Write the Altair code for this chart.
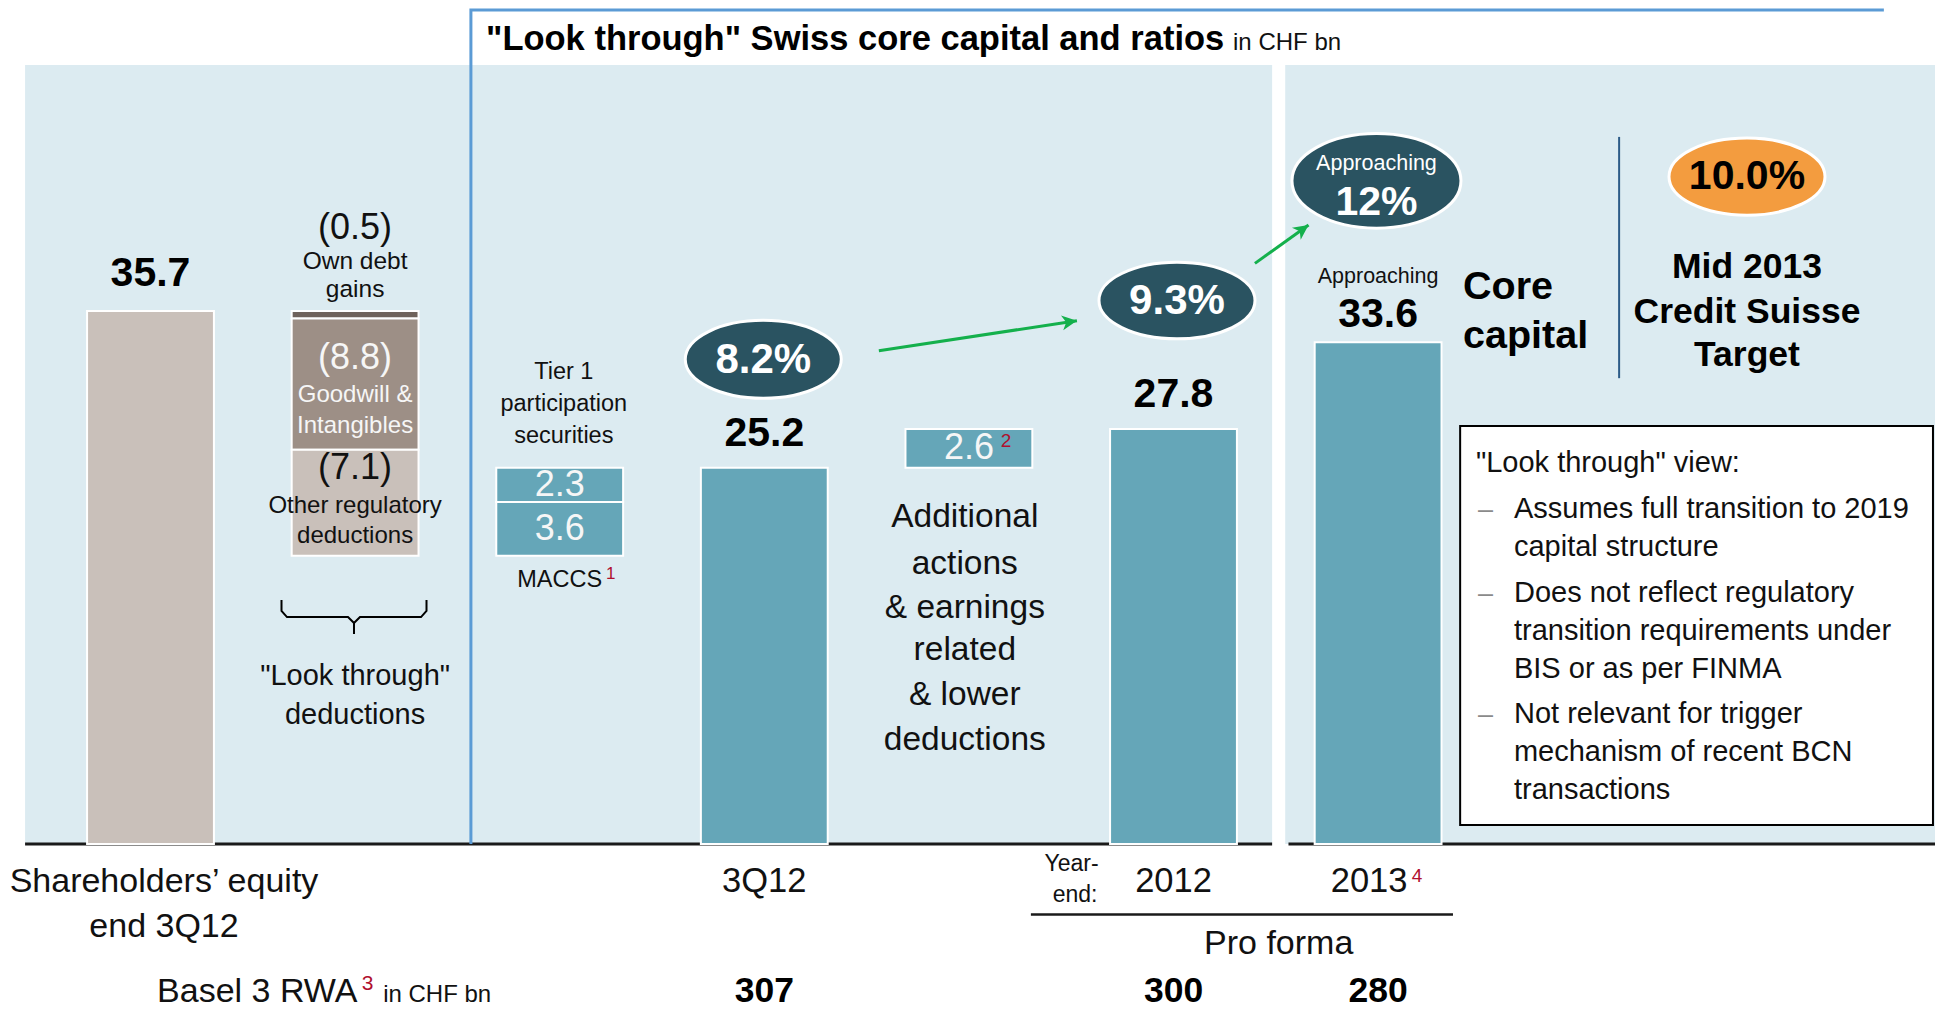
import math
import pandas as pd
import altair as alt

# ------------------------------------------------------------------ data (CHF bn)
equity_label = ["Shareholders\u2019 equity", "end 3Q12"]
equity_value = 35.7
deduction_labels = ["(0.5)", "(8.8)", "(7.1)"]
deduction_values = [0.5, 8.8, 7.1]
deduction_kinds = ["own_debt", "goodwill", "other_reg"]
addition_labels = ["3.6", "2.3"]            # MACCS, Tier 1 participation securities
addition_values = [3.6, 2.3]
core_periods = ["3Q12", "2012", "2013"]
core_values = [25.2, 27.8, 33.6]
core_slots = [3, 5, 6]
additional_label = "2.6"
additional_value = 2.6
ratio_labels = ["8.2%", "9.3%", "12%"]
target_label = "10.0%"
rwa_labels = ["307", "300", "280"]
info_title = '"Look through" view:'
info_bullets = [
    ["Assumes full transition to 2019", "capital structure"],
    ["Does not reflect regulatory", "transition requirements under", "BIS or as per FINMA"],
    ["Not relevant for trigger", "mechanism of recent BCN", "transactions"],
]

# ------------------------------------------------------------------ layout
W, H = 1927, 1004
STEP = 204.6          # px per category slot
KPX = 14.93           # px per CHF bn
X0PX, Y0PX = 142.5, 836
XDOM = [-X0PX / STEP, (W - X0PX) / STEP]
YDOM = [-(H - Y0PX) / KPX, Y0PX / KPX]
XS = alt.Scale(domain=XDOM, nice=False, zero=False)
YS = alt.Scale(domain=YDOM, nice=False, zero=False)
HW = 0.31

SANS = "Liberation Sans, Arial, Helvetica, sans-serif"
INK = "#111111"
BG = "#DCEBF1"
TEAL = "#65A6B8"
DARK = "#2A5361"
ORANGE = "#F39C3F"
GREEN = "#14B04C"
BLUE = "#5B9BD5"
RED = "#B0102E"
WHITE_TXT = "#F6F6F6"


def X(f="x"):
    return alt.X(f + ":Q", scale=XS, axis=None)


def Y(f="y"):
    return alt.Y(f + ":Q", scale=YS, axis=None)


def T(rows, size, color=INK, weight="normal", align="center", baseline="middle", dy=0, dx=0):
    df = pd.DataFrame(rows, columns=["x", "y", "t"])
    return alt.Chart(df).mark_text(
        fontSize=size, color=color, fontWeight=weight, font=SANS, align=align,
        baseline=baseline, dx=dx, dy=dy
    ).encode(x=X(), y=Y(), text=alt.Text("t:N"))


def R(rows, color, width):
    df = pd.DataFrame(rows, columns=["x", "y", "x2", "y2"])
    return alt.Chart(df).mark_rule(color=color, strokeWidth=width).encode(
        x=X(), y=Y(), x2=alt.X2("x2"), y2=alt.Y2("y2"))


def RECT(rows, **kw):
    df = pd.DataFrame(rows, columns=["x", "x2", "y", "y2"])
    return alt.Chart(df).mark_rect(**kw).encode(
        x=X(), x2=alt.X2("x2"), y=Y(), y2=alt.Y2("y2"))


def POLY(xs, ys, color, width):
    df = pd.DataFrame(dict(x=xs, y=ys, o=list(range(len(xs)))))
    return alt.Chart(df).mark_line(color=color, strokeWidth=width).encode(
        x=X(), y=Y(), order="o:Q")


def ELLIPSE(x, y, w, ry, fill):
    path = f"M-1,0A1,{ry},0,1,1,1,0A1,{ry},0,1,1,-1,0Z"
    df = pd.DataFrame(dict(x=[x], y=[y]))
    return alt.Chart(df).mark_point(
        shape=path, size=w * w, filled=True, fill=fill, stroke="white",
        strokeWidth=3, opacity=1
    ).encode(x=X(), y=Y())


def ARROW(x1, y1, x2, y2):
    ang = math.degrees(math.atan2(-(y2 - y1) * KPX, (x2 - x1) * STEP)) % 360
    line = R([(x1, y1, x2, y2)], GREEN, 3)
    head = alt.Chart(pd.DataFrame(dict(x=[x2], y=[y2]))).mark_point(
        shape="M0,0L-1,-0.5L-0.72,0L-1,0.5Z", size=900, filled=True, fill=GREEN,
        strokeWidth=0, opacity=1, angle=ang
    ).encode(x=X(), y=Y())
    return [line, head]


# ------------------------------------------------------------------ waterfall segments
segs = [dict(x=0 - HW, x2=0 + HW, y=0.0, y2=equity_value, kind="equity")]
level = equity_value
for v, k in zip(deduction_values, deduction_kinds):
    segs.append(dict(x=1 - HW, x2=1 + HW, y=level - v, y2=level, kind=k))
    level -= v
add_mid = []
for v, lab in zip(addition_values, addition_labels):
    segs.append(dict(x=2 - HW, x2=2 + HW, y=level, y2=level + v, kind="teal"))
    add_mid.append((2, level + v / 2, lab))
    level += v
for s, v in zip(core_slots, core_values):
    segs.append(dict(x=s - HW, x2=s + HW, y=0.0, y2=v, kind="teal"))
segs.append(dict(x=4 - HW, x2=4 + HW, y=core_values[0],
                 y2=core_values[0] + additional_value, kind="teal"))
seg_df = pd.DataFrame(segs)

kinds = ["equity", "own_debt", "goodwill", "other_reg", "teal"]
kind_colors = ["#C9C0BA", "#6F625B", "#9D8F86", "#C9C0BA", TEAL]
bars = alt.Chart(seg_df).mark_rect(stroke="white", strokeWidth=2).encode(
    x=X(), x2=alt.X2("x2"), y=Y(), y2=alt.Y2("y2"),
    color=alt.Color("kind:N", scale=alt.Scale(domain=kinds, range=kind_colors), legend=None),
)

layers = []
# background panels
layers.append(RECT([(-0.613, 5.482, 0, 52.18), (5.546, XDOM[1], 0, 52.18)], color=BG))
# baselines
layers.append(R([(-0.613, 0, 5.482, 0), (5.562, 0, XDOM[1], 0)], "#1a1a1a", 3))
# title frame
layers.append(POLY([1.566, 1.566, 8.472], [0, 55.86, 55.86], BLUE, 3))
layers.append(bars)

# title
layers.append(T([(1.640, 53.18, '"Look through" Swiss core capital and ratios')], 34.5,
                color="#000000", weight="bold", align="left", baseline="alphabetic"))
layers.append(T([(5.291, 53.18, "in CHF bn")], 24, align="left", baseline="alphabetic"))

# bar value labels
layers.append(T([(0, equity_value, f"{equity_value}")], 41, color="#000000", weight="bold", dy=-37))
layers.append(T([(s, v, f"{v}") for s, v in zip(core_slots[:2], core_values[:2])], 41,
                color="#000000", weight="bold", dy=-34))
layers.append(T([(core_slots[2], core_values[2], f"{core_values[2]}")], 41, color="#000000",
                weight="bold", dy=-27))
layers.append(T([(6.0, 37.98, "Approaching")], 21.5))

# deductions column
layers.append(T([(1.0, 41.26, deduction_labels[0])], 36))
layers.append(T([(1.0, 38.95, "Own debt"), (1.0, 37.1, "gains")], 24.5))
layers.append(T([(1.0, 32.55, deduction_labels[1])], 36, color=WHITE_TXT))
layers.append(T([(1.0, 30.07, "Goodwill &"), (1.0, 28.0, "Intangibles")], 24, color=WHITE_TXT))
layers.append(T([(1.0, 25.18, deduction_labels[2])], 36))
layers.append(T([(1.0, 22.67, "Other regulatory"), (1.0, 20.6, "deductions")], 24))
layers.append(POLY([0.6403, 0.6403, 0.6672, 0.9653, 0.9946, 0.9946, 0.9946, 1.0239, 1.3221, 1.3490, 1.3490],
                   [16.34, 15.61, 15.20, 15.20, 14.80, 14.07, 14.80, 15.20, 15.20, 15.61, 16.34],
                   "#000000", 2))
layers.append(T([(1.0, 11.22, '"Look through"'), (1.0, 8.64, "deductions")], 29))

# additions column
layers.append(T([(2.02, 31.63, "Tier 1"), (2.02, 29.47, "participation"), (2.02, 27.33, "securities")], 23.5))
layers.append(T(add_mid, 36, color=WHITE_TXT))
layers.append(T([(2.0, 17.68, "MACCS")], 23.5))
layers.append(T([(2.226, 18.1, "1")], 17, color=RED, align="left"))

# additional actions
layers.append(T([(4.0, core_values[0] + additional_value / 2, additional_label)], 36, color=WHITE_TXT))
layers.append(T([(4.181, 26.99, "2")], 19, color=RED))
layers.append(T([(3.98, 21.92, "Additional"), (3.98, 18.75, "actions"), (3.98, 15.84, "& earnings"),
                 (3.98, 12.99, "related"), (3.98, 9.98, "& lower"), (3.98, 6.97, "deductions")], 33.5))

# ratio ellipses and arrows
layers += ARROW(3.560, 33.04, 4.528, 35.05)
layers += ARROW(5.398, 38.89, 5.660, 41.46)
layers.append(ELLIPSE(2.995, 32.46, 156, 0.5, DARK))
layers.append(ELLIPSE(5.017, 36.40, 156, 0.49, DARK))
layers.append(ELLIPSE(5.992, 44.42, 169, 0.56, DARK))
layers.append(T([(2.995, 32.42, ratio_labels[0]), (5.017, 36.36, ratio_labels[1])], 42,
                color="white", weight="bold"))
layers.append(T([(5.992, 45.55, "Approaching")], 21.5, color="white"))
layers.append(T([(5.992, 42.93, ratio_labels[2])], 41, color="white", weight="bold"))

# core capital & target
layers.append(T([(6.415, 37.31, "Core"), (6.415, 34.0, "capital")], 39.5, color="#000000",
                weight="bold", align="left"))
layers.append(R([(7.178, 31.2, 7.178, 47.36)], "#2C5B87", 2))
layers.append(ELLIPSE(7.803, 44.70, 156, 0.494, ORANGE))
layers.append(T([(7.803, 44.66, target_label)], 41, color="#000000", weight="bold"))
layers.append(T([(7.803, 38.65, "Mid 2013"), (7.803, 35.65, "Credit Suisse"), (7.803, 32.75, "Target")], 35.5,
                color="#000000", weight="bold"))

# info box
layers.append(RECT([(6.401, 8.712, 1.27, 28.0)], fill="white", stroke="black", strokeWidth=2))
layers.append(T([(6.478, 24.92, info_title)], 29, align="left", baseline="alphabetic"))
rows, dashes = [], []
yb = 21.81
for bullet in info_bullets:
    dashes.append((6.488, yb, "\u2013"))
    for ln in bullet:
        rows.append((6.664, yb, ln))
        yb -= 2.55
    yb -= 0.48
layers.append(T(dashes, 27, color="#8a8a8a", align="left", baseline="alphabetic"))
layers.append(T(rows, 29, align="left", baseline="alphabetic"))

# bottom axis labels
layers.append(T([(0.066, -2.55, equity_label[0]), (0.066, -5.56, equity_label[1])], 34))
layers.append(T([(s, -2.55, p) for s, p in zip(core_slots[:2], core_periods[:2])], 34.5))
layers.append(T([(core_slots[2], -2.55, core_periods[2])], 34.5, dx=-9))
layers.append(T([(6.19, -2.14, "4")], 19, color=RED))
layers.append(T([(4.502, -1.31, "Year-"), (4.519, -3.39, "end:")], 23))
layers.append(R([(4.303, -4.72, 6.366, -4.72)], "#1a1a1a", 2.5))
layers.append(T([(5.514, -6.70, "Pro forma")], 34))
RWA_Y = -10.55
layers.append(T([(0.032, RWA_Y, "Basel 3 RWA")], 34, align="left", baseline="alphabetic"))
layers.append(T([(1.061, RWA_Y + 1.2, "3")], 21, color=RED))
layers.append(T([(1.137, RWA_Y, "in CHF bn")], 24, align="left", baseline="alphabetic"))
layers.append(T([(s, RWA_Y, r) for s, r in zip(core_slots, rwa_labels)], 35.5, color="#000000",
                weight="bold", baseline="alphabetic"))

chart = alt.layer(*layers).properties(
    width=W, height=H, padding=0, background="white",
    autosize=alt.AutoSizeParams(type="none"),
).configure_view(strokeWidth=0)

chart.save("out.html", embed_options={"renderer": "svg", "actions": False})
